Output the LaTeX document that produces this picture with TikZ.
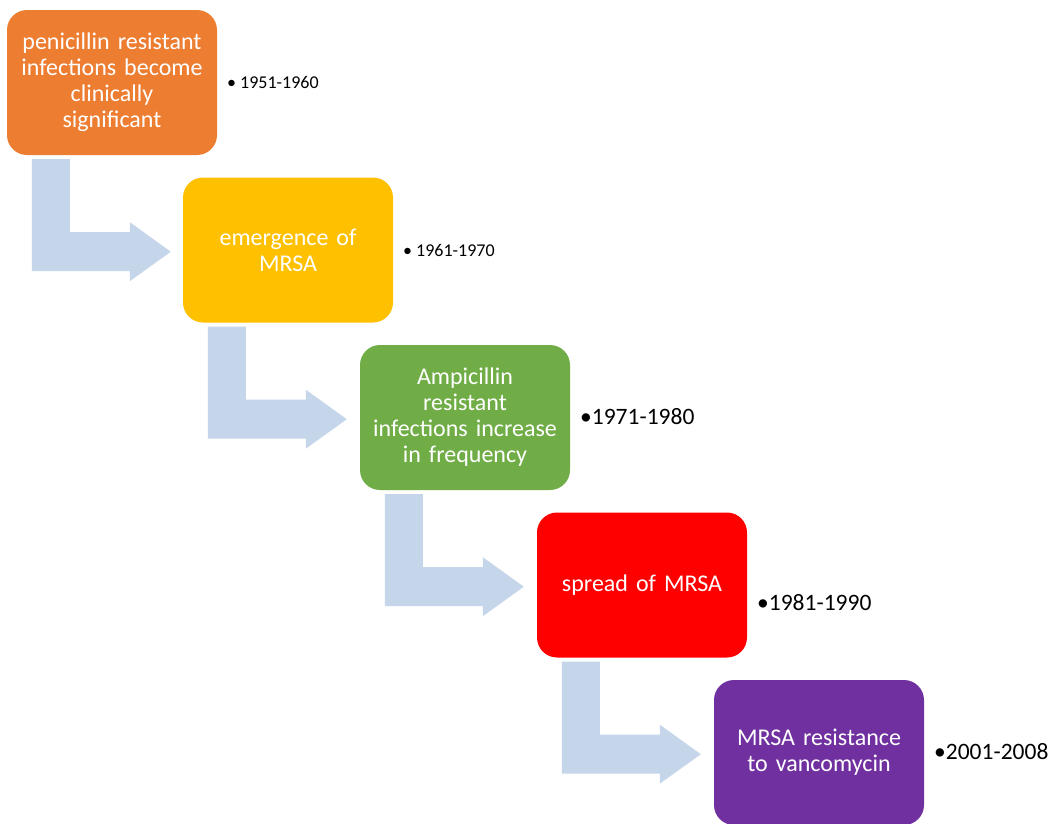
\documentclass[tikz,border=0pt]{standalone}
\usepackage{fontspec}
\setmainfont{Carlito}
\definecolor{stageorange}{HTML}{ED7D31}
\definecolor{stageyellow}{HTML}{FFC000}
\definecolor{stagegreen}{HTML}{70AD47}
\definecolor{stagered}{HTML}{FF0000}
\definecolor{stagepurple}{HTML}{7030A0}
\definecolor{flowblue}{HTML}{C5D5EA}
\tikzstyle{stage} = [rectangle, rounded corners=20pt, minimum width=210pt, minimum height=145pt, inner sep=0pt, text width=196pt, align=center, text=white, font=\fontsize{24}{26}\selectfont]
\tikzstyle{flow} = [fill=flowblue]
\tikzstyle{year} = [anchor=west, inner sep=0pt, font=\fontsize{23.5}{28}\selectfont]
\tikzstyle{smallyear} = [year, font=\fontsize{18}{22}\selectfont]

\begin{document}
\begin{tikzpicture}[x=1pt, y=-1pt]
            \useasboundingbox[fill=white] (0,0) rectangle (1053,823);
            \node[stage, fill=stageorange] (b1) at (112,82.5) {penicillin resistant\\infections become\\clinically\\significant};
            \node[stage, fill=stageyellow] (b2) at (288,250) {emergence of\\MRSA};
            \node[stage, fill=stagegreen] (b3) at (465,417.5) {Ampicillin\\resistant\\infections increase\\in frequency};
            \node[stage, fill=stagered] (b4) at (642,585) {spread of MRSA};
            \node[stage, fill=stagepurple] (b5) at (819,752.5) {MRSA resistance\\to vancomycin};
            \node[smallyear] (y1) at (227,82) {• 1951-1960};
            \node[smallyear] (y2) at (403,250) {• 1961-1970};
            \node[year] (y3) at (580,417) {•1971-1980};
            \node[year] (y4) at (757,603) {•1981-1990};
            \node[year] (y5) at (934,752) {•2001-2008};
            \fill[flow] ([shift={(25,4)}]b1.south west) -- ++(38,0) -- ++(0,73) -- ++(60,0) -- ++(0,-10) -- ++(41,29.5) -- ++(-41,29.5) -- ++(0,-10) -- ++(-98,0) -- cycle;
            \fill[flow] ([shift={(25,4)}]b2.south west) -- ++(38,0) -- ++(0,73) -- ++(60,0) -- ++(0,-10) -- ++(41,29.5) -- ++(-41,29.5) -- ++(0,-10) -- ++(-98,0) -- cycle;
            \fill[flow] ([shift={(25,4)}]b3.south west) -- ++(38,0) -- ++(0,73) -- ++(60,0) -- ++(0,-10) -- ++(41,29.5) -- ++(-41,29.5) -- ++(0,-10) -- ++(-98,0) -- cycle;
            \fill[flow] ([shift={(25,4)}]b4.south west) -- ++(38,0) -- ++(0,73) -- ++(60,0) -- ++(0,-10) -- ++(41,29.5) -- ++(-41,29.5) -- ++(0,-10) -- ++(-98,0) -- cycle;
        \end{tikzpicture}
\end{document}
